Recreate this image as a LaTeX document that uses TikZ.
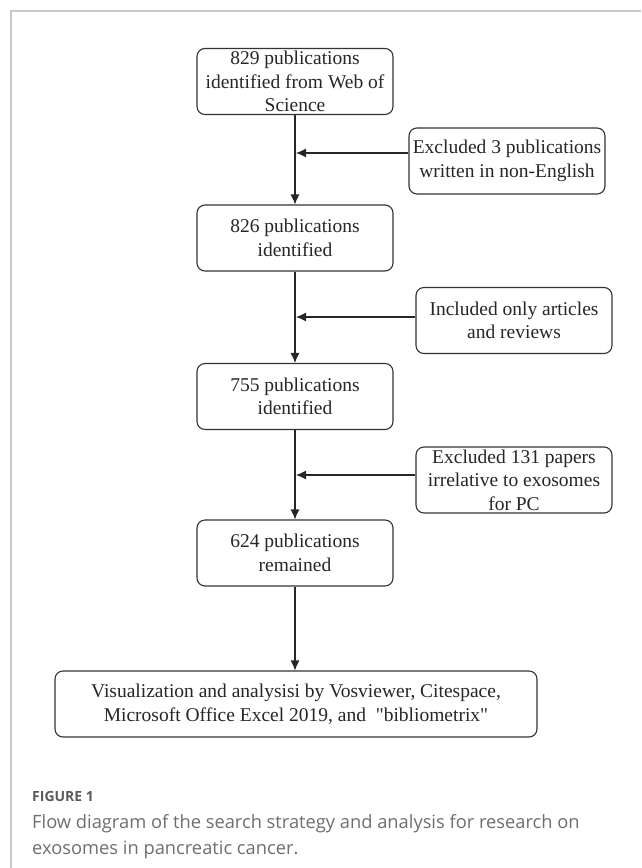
\documentclass[tikz,border=0pt]{standalone}
\usepackage{fontspec}
\setmainfont{Liberation Serif}
\newfontfamily\captionfont{Open Sans}
\usetikzlibrary{arrows.meta}
\definecolor{boxline}{HTML}{333333}
\definecolor{framegray}{HTML}{C8C8C8}
\definecolor{capgray}{HTML}{6E6E6E}
\definecolor{capdark}{HTML}{5A5A5A}
\tikzset{
    stage/.style={rectangle,rounded corners=8pt,draw=boxline,line width=1.1pt,
        minimum width=196pt,minimum height=66pt,inner sep=0pt,align=center,
        font=\fontsize{19.5}{23.5}\selectfont,text=black!85},
    filter/.style={stage},
    final/.style={stage,minimum width=482pt},
    flow/.style={->,> = {Latex[length=10pt,width=9pt]},line width=1.1pt,draw=black!85},
    caption/.style={anchor=base west,inner sep=0pt,text=capgray,align=left,
        font=\captionfont\fontsize{18.3}{26}\selectfont},
}

\begin{document}
\begin{tikzpicture}[x=1pt,y=-1pt]
\useasboundingbox (0,0) rectangle (641,868);
\draw[framegray,line width=1.5pt] (641,11) -- (11,11) -- (11,868);
\node[stage] (wos) at (295,81.5) {829 publications\\identified from Web of\\Science};
\node[stage] (n826) at (295,238) {826 publications\\identified};
\node[stage] (n755) at (295,396.5) {755 publications\\identified};
\node[stage] (n624) at (295,553) {624 publications\\remained};
\node[final] (vis) at (296,704) {Visualization and analysisi by Vosviewer, Citespace,\\Microsoft Office Excel 2019, and\ \ \textquotedbl bibliometrix\textquotedbl};
\node[filter] (lang) at (507,161) {Excluded 3 publications\\written in non-English};
\node[filter] (type) at (514,320.5) {Included only articles\\and reviews};
\node[filter] (topic) at (514,480) {Excluded 131 papers\\irrelative to exosomes\\for PC};
\coordinate (j1) at (296,153);
\coordinate (j2) at (296,317);
\coordinate (j3) at (296,475);
\draw[flow] (wos) -- (n826);
\draw[flow] (n826) -- (n755);
\draw[flow] (n755) -- (n624);
\draw[flow] (n624.south) -- (vis.north -| n624.south);
\draw[flow] (lang.west |- j1) -- (j1);
\draw[flow] (type.west |- j2) -- (j2);
\draw[flow] (topic.west |- j3) -- (j3);
\node[caption,text=capdark,font=\captionfont\bfseries\fontsize{14}{16}\selectfont] (fig) at (32,801) {FIGURE 1};
\node[caption] (cap) at (32,854) {Flow diagram of the search strategy and analysis for research on\\exosomes in pancreatic cancer.};
\end{tikzpicture}
\end{document}
